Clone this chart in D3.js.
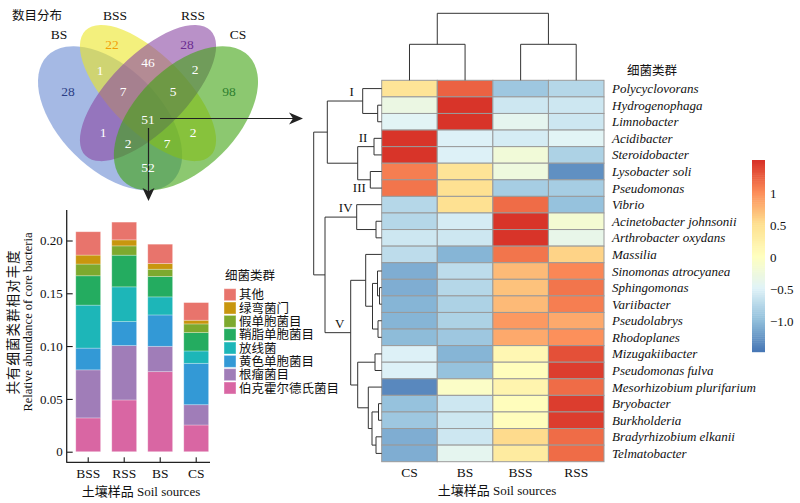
<!DOCTYPE html>
<html>
<head>
<meta charset="utf-8">
<script src="https://cdn.jsdelivr.net/npm/d3@7"></script>
<style>
body { margin: 0; background: #fff; }
text { font-family: "Liberation Serif", "Noto Sans CJK SC", serif; fill: #111; }
</style>
</head>
<body>
<svg id="chart" width="800" height="503"></svg>
<script>
// ---- data ----
const vennSets = ["BS", "BSS", "RSS", "CS"];
const vennRegions = ["BS", "BSS", "RSS", "CS", "BS&BSS", "BSS&RSS", "RSS&CS", "BS&BSS&RSS",
                     "BSS&RSS&CS", "all", "BS&RSS", "BS&RSS&CS", "BS&BSS&CS", "BSS&CS", "BS&CS"];
const vennCounts = [28, 22, 28, 98, 1, 46, 2, 7, 5, 51, 1, 2, 7, 2, 52];

const samples = ["BSS", "RSS", "BS", "CS"];
const taxa = ["伯克霍尔德氏菌目", "根瘤菌目", "黄色单胞菌目", "放线菌", "鞘脂单胞菌目", "假单胞菌目", "绿弯菌门", "其他"];
const burkholderiales = [0.032, 0.049, 0.0758, 0.0253];
const rhizobiales = [0.0455, 0.0515, 0.024, 0.0192];
const xanthomonadales = [0.0206, 0.0227, 0.0297, 0.0392];
const actinomycetes = [0.0407, 0.0329, 0.0171, 0.0117];
const sphingomonadales = [0.0278, 0.030, 0.0193, 0.0174];
const pseudomonadales = [0.0111, 0.0088, 0.0069, 0.0082];
const chloroflexi = [0.0085, 0.0057, 0.0054, 0.0035];
const others = [0.0221, 0.0168, 0.0183, 0.0167];
const taxaColors = ["#D966A3", "#A07DB8", "#3399D6", "#1DB6B8", "#24AC60", "#7DA92E", "#C8960E", "#E8746C"];
const yTicks = [0, 0.05, 0.10, 0.15, 0.20];

const heatCols = ["CS", "BS", "BSS", "RSS"];
const genera = ["Polycyclovorans", "Hydrogenophaga", "Limnobacter", "Acidibacter", "Steroidobacter",
  "Lysobacter soli", "Pseudomonas", "Vibrio", "Acinetobacter johnsonii", "Arthrobacter oxydans",
  "Massilia", "Sinomonas atrocyanea", "Sphingomonas", "Variibacter", "Pseudolabrys", "Rhodoplanes",
  "Mizugakiibacter", "Pseudomonas fulva", "Mesorhizobium plurifarium", "Bryobacter", "Burkholderia",
  "Bradyrhizobium elkanii", "Telmatobacter"];
const zScores = [
  [0.45, 1.25, -0.9, -0.75],
  [-0.3, 1.5, -0.6, -0.6],
  [-0.45, 1.5, -0.4, -0.6],
  [1.5, -0.5, -0.55, -0.45],
  [1.5, -0.5, -0.2, -0.8],
  [1.1, 0.45, -0.25, -1.3],
  [1.15, 0.5, -0.85, -0.85],
  [-0.75, 0.5, 1.2, -0.95],
  [-0.75, -0.55, 1.5, -0.15],
  [-0.6, -0.6, 1.5, -0.35],
  [-0.7, -1.05, 1.15, 0.6],
  [-1.1, -0.7, 0.75, 1.05],
  [-1.1, -0.75, 0.7, 1.15],
  [-1.05, -0.8, 0.75, 1.1],
  [-1.05, -0.8, 0.95, 0.85],
  [-1.0, -0.9, 0.85, 1.0],
  [-0.5, -1.05, 0.15, 1.35],
  [-0.5, -0.95, 0.05, 1.45],
  [-1.35, -0.05, 0.2, 1.2],
  [-0.95, -0.6, 0.05, 1.45],
  [-0.9, -0.6, 0.05, 1.45],
  [-1.1, -0.6, 0.55, 1.2],
  [-1.1, -0.4, 0.35, 1.2]
];
const legendTicks = [1, 0.5, 0, -0.5, -1.0];
const zRange = [-1.48, 1.52];
const palette = ["#4575B4", "#91BFDB", "#E0F3F8", "#FFFFBF", "#FEE090", "#FC8D59", "#D73027"];

// dendrograms: [height, left, right, label]
const rowTree = [68,
  [54.4, [19, 0, [4, 1, 2], "I"], [24, [7.7, 3, 4, "II"], [11.4, 5, 6, "III"]]],
  [56.7, [25, 7, [5.7, 8, 9], "IV"],
    [31, [16, 10, [9.2, [4.2, 11, [2.2, 12, 13]], [3.7, 14, 15]]],
         [24, [6.7, 16, 17], [13.4, 18, [9.7, [3.2, 19, 20], [5.7, 21, 22]]]], "V"]]];
const colTree = [67, [36, 0, 1], [36, 2, 3]];

// ---- drawing ----
const svg = d3.select("#chart");
svg.append("rect").attr("width", 800).attr("height", 503).attr("fill", "#fff");

// Venn
const s = 252.9;
const vx = u => 148 + (u - 0.5) * s, vy = v => 25 + (0.839 - v) * s;
const ellipses = [
  {u: 0.35, v: 0.47, a: 0.35, b: 0.20, rot: 45, color: "#698AD2"},
  {u: 0.50, v: 0.57, a: 0.35, b: 0.15, rot: 45, color: "#EBE626"},
  {u: 0.50, v: 0.57, a: 0.35, b: 0.15, rot: -45, color: "#8A48A3"},
  {u: 0.65, v: 0.47, a: 0.35, b: 0.20, rot: -45, color: "#3FA311"}
];
const venn = svg.append("g");
venn.selectAll("ellipse").data(ellipses).join("ellipse")
  .attr("transform", d => `translate(${vx(d.u)},${vy(d.v)}) rotate(${d.rot})`)
  .attr("rx", d => d.a * s).attr("ry", d => d.b * s)
  .attr("fill", d => d.color).attr("fill-opacity", 0.6);

// arrows from the core set
const arrows = venn.append("g").attr("fill", "#222").attr("stroke", "#222");
arrows.append("line").attr("x1", 160).attr("y1", 118.5).attr("x2", 294).attr("y2", 118.5).attr("stroke-width", 1.2);
arrows.append("path").attr("stroke", "none").attr("d", "M303,118.5 L289,112.5 L293,118.5 L289,124.5 Z");
arrows.append("line").attr("x1", 148.5).attr("y1", 128).attr("x2", 148.5).attr("y2", 192).attr("stroke-width", 1.2);
arrows.append("path").attr("stroke", "none").attr("d", "M148.5,201 L142.5,188 L148.5,191 L154.5,188 Z");

const regionPos = {
  "BS": [68, 91], "BSS": [112, 44], "RSS": [187, 44], "CS": [229, 91],
  "BS&BSS": [100, 70], "BSS&RSS": [148, 62], "RSS&CS": [195, 69], "BS&BSS&RSS": [123, 91],
  "BSS&RSS&CS": [173, 91], "all": [148, 119], "BS&RSS": [103, 132], "BS&RSS&CS": [128, 143],
  "BS&BSS&CS": [167, 143], "BSS&CS": [193, 132], "BS&CS": [148, 167]
};
const regionColor = {"BS": "#2C3E85", "BSS": "#F2A007", "RSS": "#6B2C91", "CS": "#2F7F2F"};
venn.selectAll("text.num").data(vennRegions).join("text")
  .attr("class", "num")
  .attr("x", d => regionPos[d][0]).attr("y", d => regionPos[d][1] + 4.5)
  .attr("text-anchor", "middle").attr("font-size", 13.5)
  .style("fill", d => regionColor[d] || "#fff")
  .text((d, i) => vennCounts[i]);

const setLabelPos = [[59, 34], [115, 15], [193, 15], [238, 34]];
venn.selectAll("text.set").data(vennSets).join("text")
  .attr("class", "set")
  .attr("x", (d, i) => setLabelPos[i][0]).attr("y", (d, i) => setLabelPos[i][1] + 4.5)
  .attr("text-anchor", "middle").attr("font-size", 13.5).text(d => d);
venn.append("text").attr("x", 12).attr("y", 19.5).attr("font-size", 12.5).text("数目分布");

// stacked bars
const x = d3.scaleBand().domain(samples).range([70.2, 214.2]).paddingInner(0.31).paddingOuter(0.155);
const y = d3.scaleLinear().domain([0, 0.2]).range([451.7, 240.5]);
const series = [burkholderiales, rhizobiales, xanthomonadales, actinomycetes,
                sphingomonadales, pseudomonadales, chloroflexi, others];
const rows = samples.map((smp, j) => {
  const r = {sample: smp};
  taxa.forEach((t, i) => r[t] = series[i][j]);
  return r;
});
const stacked = d3.stack().keys(taxa)(rows);
const bars = svg.append("g");
bars.selectAll("g").data(stacked).join("g")
  .attr("fill", (d, i) => taxaColors[i])
  .selectAll("rect").data(d => d).join("rect")
  .attr("x", d => x(d.data.sample)).attr("width", x.bandwidth())
  .attr("y", d => y(d[1])).attr("height", d => y(d[0]) - y(d[1]))
  .attr("stroke", "#fff").attr("stroke-opacity", 0.35).attr("stroke-width", 0.8);

const yAxis = svg.append("g").attr("transform", "translate(66.7,0)")
  .call(d3.axisLeft(y).tickValues(yTicks).tickSizeInner(-6).tickSizeOuter(0).tickPadding(4)
    .tickFormat(d => d === 0 ? "0" : d3.format(".2f")(d)));
yAxis.select(".domain").remove();
yAxis.selectAll("text").attr("font-size", 13).attr("font-family", null);
yAxis.append("line").attr("y1", 210).attr("y2", 462.8).attr("stroke", "#222").attr("stroke-width", 1.3);

const xAxis = svg.append("g").attr("transform", "translate(0,462.3)")
  .call(d3.axisBottom(x).tickSizeInner(-5).tickSizeOuter(0).tickPadding(6));
xAxis.select(".domain").remove();
xAxis.selectAll("text").attr("font-size", 13.5).attr("font-family", null);
xAxis.append("line").attr("x1", 66.7).attr("x2", 210).attr("stroke", "#222").attr("stroke-width", 1.3);

svg.append("text").attr("x", 141).attr("y", 496).attr("text-anchor", "middle").attr("font-size", 13)
  .text("土壤样品 Soil sources");
svg.append("text").attr("transform", "translate(18,322) rotate(-90)").attr("text-anchor", "middle")
  .attr("font-size", 13.5).attr("letter-spacing", 1).text("共有细菌类群相对丰度");
svg.append("text").attr("transform", "translate(32,322) rotate(-90)").attr("text-anchor", "middle")
  .attr("font-size", 12.5).text("Relative abundance of core bacteria");

// bar legend
const leg = svg.append("g").attr("transform", "translate(224,0)");
leg.append("text").attr("x", 1).attr("y", 279.5).attr("font-size", 12.5).text("细菌类群");
const legItems = taxa.map((t, i) => ({t, c: taxaColors[i]})).reverse();
const legRow = leg.selectAll("g.item").data(legItems).join("g").attr("class", "item")
  .attr("transform", (d, i) => `translate(0,${294.7 + i * 13.33})`);
legRow.append("rect").attr("x", 0).attr("y", -6).attr("width", 12).attr("height", 12)
  .attr("fill", d => d.c).attr("stroke", "#fff").attr("stroke-opacity", 0.4);
legRow.append("text").attr("x", 15).attr("y", 4.5).attr("font-size", 12.5).text(d => d.t);

// heatmap
const hx = d3.scaleBand().domain(heatCols).range([381.7, 604]);
const hy = d3.scaleBand().domain(genera).range([80.3, 461.7]);
const color = d3.scaleLinear()
  .domain(d3.range(7).map(i => zRange[0] + i * (zRange[1] - zRange[0]) / 6))
  .range(palette).clamp(true);
const cells = [];
genera.forEach((g, i) => heatCols.forEach((c, j) => cells.push({g, c, v: zScores[i][j]})));
svg.append("g").selectAll("rect").data(cells).join("rect")
  .attr("x", d => hx(d.c)).attr("y", d => hy(d.g))
  .attr("width", hx.bandwidth()).attr("height", hy.bandwidth())
  .attr("fill", d => color(d.v)).attr("stroke", "#9a9a9a").attr("stroke-width", 1);

svg.append("g").selectAll("text").data(genera).join("text")
  .attr("x", 612).attr("y", d => hy(d) + hy.bandwidth() / 2 + 4.5)
  .attr("font-size", 13).attr("font-style", "italic").text(d => d);
svg.append("g").selectAll("text").data(heatCols).join("text")
  .attr("x", d => hx(d) + hx.bandwidth() / 2).attr("y", 477)
  .attr("text-anchor", "middle").attr("font-size", 13.5).text(d => d);
svg.append("text").attr("x", 497).attr("y", 495).attr("text-anchor", "middle").attr("font-size", 13)
  .text("土壤样品 Soil sources");
svg.append("text").attr("x", 627).attr("y", 74.5).attr("font-size", 12.5).text("细菌类群");

// colour bar
const cy = d3.scaleLinear().domain(zRange).range([351.7, 160]);
const steps = d3.range(100).map(i => zRange[0] + (i + 0.5) * (zRange[1] - zRange[0]) / 100);
const dz = (zRange[1] - zRange[0]) / 100;
svg.append("g").selectAll("rect").data(steps).join("rect")
  .attr("x", 752).attr("width", 13)
  .attr("y", d => cy(d + dz / 2)).attr("height", cy(0) - cy(dz) + 0.5)
  .attr("fill", d => color(d));
svg.append("g").selectAll("text").data(legendTicks).join("text")
  .attr("x", 770).attr("y", d => cy(d) + 4.5).attr("font-size", 13)
  .text(d => d === -1 ? "\u22121.0" : (d < 0 ? "\u2212" + Math.abs(d) : d));

// dendrograms
const dendro = svg.append("g").attr("fill", "none").attr("stroke", "#333").attr("stroke-width", 1);
const rx = d3.scaleLinear().domain([0, 68]).range([381.7, 313.7]);
const rowMid = i => hy(genera[i]) + hy.bandwidth() / 2;
const romans = [];
function drawRow(node) {
  if (typeof node === "number") return {p: rowMid(node), h: 0};
  const a = drawRow(node[1]), b = drawRow(node[2]);
  const h = node[0], p = (a.p + b.p) / 2;
  dendro.append("path").attr("d", `M${rx(a.h)},${a.p}H${rx(h)}V${b.p}H${rx(b.h)}`);
  if (node[3]) romans.push({t: node[3], x: rx(h) - 11, y: node[3] === "III" ? p + 12.5 : p - 5});
  return {p, h};
}
drawRow(rowTree);
svg.append("g").selectAll("text").data(romans).join("text")
  .attr("x", d => d.x).attr("y", d => d.y).attr("text-anchor", "middle").attr("font-size", 13)
  .text(d => d.t);

const cyd = d3.scaleLinear().domain([0, 67]).range([80.3, 13.3]);
const colMid = i => hx(heatCols[i]) + hx.bandwidth() / 2;
function drawCol(node) {
  if (typeof node === "number") return {p: colMid(node), h: 0};
  const a = drawCol(node[1]), b = drawCol(node[2]);
  const h = node[0], p = (a.p + b.p) / 2;
  dendro.append("path").attr("d", `M${a.p},${cyd(a.h)}V${cyd(h)}H${b.p}V${cyd(b.h)}`);
  return {p, h};
}
drawCol(colTree);
</script>
</body>
</html>
